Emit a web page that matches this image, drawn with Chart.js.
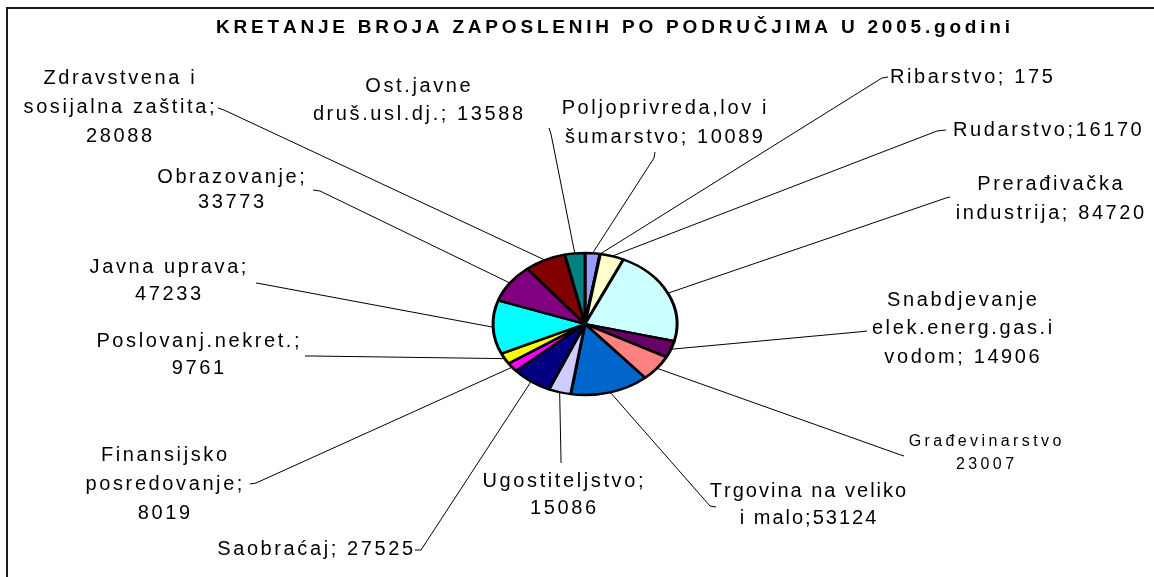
<!DOCTYPE html>
<html><head><meta charset="utf-8">
<script src="https://cdn.jsdelivr.net/npm/chart.js@4/dist/chart.umd.min.js"></script>
<style>html,body{margin:0;padding:0;background:#fff;overflow:hidden}canvas{display:block}</style>
</head><body>
<canvas id="c" width="1154" height="577"></canvas>
<script>
// ---------- DATA ----------
const title = "KRETANJE BROJA ZAPOSLENIH PO PODRUČJIMA U 2005.godini";
const categories = [
  "Poljoprivreda, lov i šumarstvo", "Ribarstvo", "Rudarstvo", "Prerađivačka industrija",
  "Snabdjevanje elek.energ.gas.i vodom", "Građevinarstvo", "Trgovina na veliko i malo",
  "Ugostiteljstvo", "Saobraćaj", "Finansijsko posredovanje", "Poslovanj.nekret.",
  "Javna uprava", "Obrazovanje", "Zdravstvena i sosijalna zaštita", "Ost.javne druš.usl.dj."
];
const values = [10089, 175, 16170, 84720, 14906, 23007, 53124, 15086, 27525, 8019, 9761, 47233, 33773, 28088, 13588];
const labelLines = [
  ["Poljoprivreda,lov i", "šumarstvo; {v}"],
  ["Ribarstvo; {v}"],
  ["Rudarstvo;{v}"],
  ["Prerađivačka", "industrija; {v}"],
  ["Snabdjevanje", "elek.energ.gas.i", "vodom; {v}"],
  ["Građevinarstvo", "{v}"],
  ["Trgovina na veliko", "i malo;{v}"],
  ["Ugostiteljstvo;", "{v}"],
  ["Saobraćaj; {v}"],
  ["Finansijsko", "posredovanje;", "{v}"],
  ["Poslovanj.nekret.;", "{v}"],
  ["Javna uprava;", "{v}"],
  ["Obrazovanje;", "{v}"],
  ["Zdravstvena i", "sosijalna zaštita;", "{v}"],
  ["Ost.javne", "druš.usl.dj.; {v}"]
];
const colors = ["#9999FF", "#993366", "#FFFFCC", "#CCFFFF", "#660066", "#FF8080", "#0066CC",
  "#CCCCFF", "#000080", "#FF00FF", "#FFFF00", "#00FFFF", "#800080", "#800000", "#008080"];

// ---------- LAYOUT (label placement) ----------
const labelLayout = [
  {x:664, y:108, lh:29, align:"center", ax:655, ay:152, bx:654, by:158},
  {x:890, y:77,  lh:29, align:"left",   ax:888, ay:77,  bx:882, by:78},
  {x:953, y:130, lh:29, align:"left",   ax:946, ay:130, bx:937, by:131},
  {x:1050, y:184, lh:29, align:"center", ax:950, ay:197, bx:946, by:198},
  {x:962, y:300, lh:28.5, align:"center", ax:867, ay:331, bx:858, by:332},
  {x:985, y:442, lh:23, align:"center", ax:904, ay:456, bx:898, by:454, size:16, ls:3.4},
  {x:808, y:491, lh:27, align:"center", ax:716, ay:507, bx:710, by:506, ls:2.0},
  {x:563, y:481, lh:27, align:"center", ax:561, ay:463, bx:561, by:460},
  {x:413, y:549, lh:29, align:"right",  ax:415, ay:550, bx:421, by:550},
  {x:164, y:455, lh:29, align:"center", ax:250, ay:484, bx:256, by:483},
  {x:198, y:341, lh:27, align:"center", ax:305, ay:356, bx:312, by:356},
  {x:168, y:267, lh:27, align:"center", ax:256, ay:283, bx:262, by:284},
  {x:231, y:177, lh:25, align:"center", ax:313, ay:190, bx:320, by:191},
  {x:119, y:78,  lh:29, align:"center", ax:218, ay:108, bx:224, by:110},
  {x:418, y:86,  lh:28, align:"center", ax:549, ay:128, bx:551, by:134}
];
const FONT = '"Liberation Sans", Arial, sans-serif';
const ELLIPSE = 71 / 92;

function spacedWidth(ctx, s, ls) {
  let w = 0;
  for (const ch of s) w += ctx.measureText(ch).width;
  return w + ls * Math.max(0, [...s].length - 1);
}
function drawSpaced(ctx, s, x, y, ls, align) {
  const w = spacedWidth(ctx, s, ls);
  let cx = align === "center" ? x - w / 2 : align === "right" ? x - w : x;
  ctx.textAlign = "left";
  for (const ch of s) {
    ctx.fillText(ch, cx, y);
    cx += ctx.measureText(ch).width + ls;
  }
}

const ellipsePlugin = {
  id: "ellipse",
  beforeDatasetsDraw(chart) {
    const a = chart.getDatasetMeta(0).data[0];
    const ctx = chart.ctx;
    ctx.save();
    ctx.translate(a.x, a.y);
    ctx.scale(1, ELLIPSE);
    ctx.translate(-a.x, -a.y);
  },
  afterDatasetsDraw(chart) { chart.ctx.restore(); }
};

const decorPlugin = {
  id: "decor",
  beforeDraw(chart) {
    const ctx = chart.ctx;
    ctx.save();
    ctx.fillStyle = "#fff";
    ctx.fillRect(0, 0, chart.width, chart.height);
    ctx.strokeStyle = "#1a1a1a";
    ctx.lineWidth = 2;
    ctx.beginPath();
    ctx.moveTo(7, chart.height);
    ctx.lineTo(7, 8);
    ctx.lineTo(chart.width, 8);
    ctx.stroke();
    ctx.restore();
  },
  afterDraw(chart) {
    const ctx = chart.ctx;
    const meta = chart.getDatasetMeta(0);
    ctx.save();
    ctx.strokeStyle = "#000";
    ctx.lineWidth = 1;
    meta.data.forEach((arc, i) => {
      const L = labelLayout[i];
      const mid = (arc.startAngle + arc.endAngle) / 2;
      const px = arc.x + Math.cos(mid) * arc.outerRadius;
      const py = arc.y + Math.sin(mid) * arc.outerRadius * ELLIPSE;
      ctx.beginPath();
      ctx.moveTo(L.ax, L.ay);
      ctx.lineTo(L.bx, L.by);
      ctx.lineTo(px, py);
      ctx.stroke();
    });
    ctx.fillStyle = "#000";
    ctx.textBaseline = "middle";
    labelLines.forEach((lines, i) => {
      const L = labelLayout[i];
      const size = L.size || 20;
      const ls = L.ls != null ? L.ls : 2.6;
      ctx.font = size + "px " + FONT;
      lines.forEach((t, j) => {
        const s = t.replace("{v}", String(values[i]));
        drawSpaced(ctx, s, L.x, L.y + j * L.lh, ls, L.align);
      });
    });
    ctx.font = "bold 19px " + FONT;
    drawSpaced(ctx, title, 613, 28, 3.8, "center");
    ctx.restore();
  }
};

new Chart(document.getElementById("c"), {
  type: "pie",
  data: {
    labels: categories,
    datasets: [{
      data: values,
      backgroundColor: colors,
      borderColor: "#000",
      borderWidth: 3,
      hoverOffset: 0
    }]
  },
  options: {
    responsive: false,
    animation: false,
    devicePixelRatio: 1,
    events: [],
    radius: 92,
    layout: { padding: { left: 385, right: 369, top: 232, bottom: 161 } },
    plugins: { legend: { display: false }, tooltip: { enabled: false }, title: { display: false } }
  },
  plugins: [decorPlugin, ellipsePlugin]
});
</script>
</body></html>
